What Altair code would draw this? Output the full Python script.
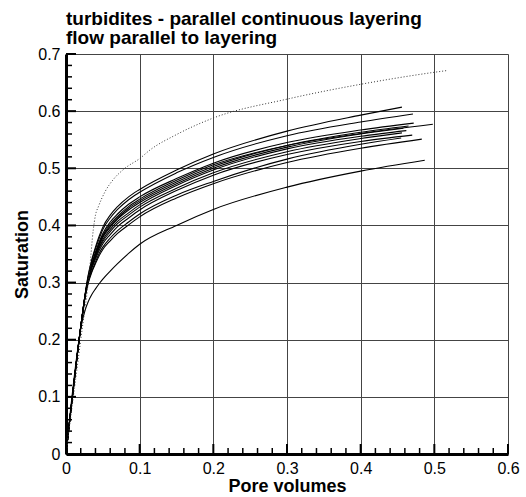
import altair as alt
import pandas as pd

# ---- data -------------------------------------------------------------
common_pv = [0.0, 0.022, 0.026, 0.03, 0.035, 0.04, 0.045, 0.05, 0.06, 0.07, 0.085,
             0.1, 0.15, 0.2, 0.3, 0.4]

sat_c1 = [0.0, 0.242, 0.280, 0.312, 0.340, 0.362, 0.381, 0.397, 0.418, 0.433, 0.450,
          0.463, 0.497, 0.525, 0.565, 0.593]
sat_c2 = [0.0, 0.242, 0.279, 0.310, 0.338, 0.359, 0.377, 0.393, 0.413, 0.428, 0.445,
          0.458, 0.492, 0.519, 0.557, 0.581]
sat_c3 = [0.0, 0.241, 0.277, 0.306, 0.332, 0.353, 0.371, 0.386, 0.406, 0.420, 0.437,
          0.450, 0.482, 0.509, 0.545, 0.567]
sat_c4 = [0.0, 0.241, 0.277, 0.305, 0.331, 0.351, 0.368, 0.383, 0.402, 0.416, 0.433,
          0.446, 0.479, 0.506, 0.540, 0.561]
sat_c5 = [0.0, 0.241, 0.277, 0.306, 0.330, 0.350, 0.367, 0.381, 0.399, 0.413, 0.430,
          0.443, 0.476, 0.503, 0.540, 0.563]
sat_c6 = [0.0, 0.242, 0.278, 0.306, 0.330, 0.349, 0.365, 0.379, 0.397, 0.411, 0.427,
          0.440, 0.473, 0.500, 0.537, 0.560]
sat_c7 = [0.0, 0.242, 0.278, 0.305, 0.329, 0.346, 0.362, 0.375, 0.393, 0.407, 0.422,
          0.436, 0.470, 0.497, 0.534, 0.556]
sat_c8 = [0.0, 0.242, 0.278, 0.305, 0.327, 0.344, 0.360, 0.372, 0.389, 0.403, 0.418,
          0.432, 0.465, 0.492, 0.529, 0.552]
sat_c9 = [0.0, 0.242, 0.277, 0.303, 0.325, 0.341, 0.356, 0.368, 0.384, 0.398, 0.413,
          0.427, 0.461, 0.488, 0.524, 0.547]
sat_c10 = [0.0, 0.241, 0.276, 0.300, 0.320, 0.336, 0.351, 0.362, 0.378, 0.391, 0.406,
           0.420, 0.453, 0.477, 0.516, 0.542]
sat_c11 = [0.0, 0.240, 0.275, 0.298, 0.318, 0.333, 0.347, 0.358, 0.373, 0.386, 0.401,
           0.415, 0.448, 0.473, 0.510, 0.535]
sat_c12 = [0.0, 0.232, 0.252, 0.266, 0.279, 0.289, 0.298, 0.306, 0.320, 0.333, 0.351,
           0.367, 0.400, 0.428, 0.467, 0.495]

end_pv = [0.456, 0.471, 0.472, 0.498, 0.465, 0.458, 0.462, 0.456, 0.470, 0.455, 0.483, 0.487]
end_sat = [0.607, 0.595, 0.579, 0.577, 0.574, 0.570, 0.566, 0.562, 0.558, 0.553, 0.551, 0.514]

dotted_pv = [0.0, 0.01, 0.02, 0.032, 0.037, 0.040, 0.044, 0.053, 0.064, 0.08, 0.1,
             0.114, 0.15, 0.2, 0.3, 0.4, 0.5, 0.517]
dotted_sat = [0.0, 0.10, 0.20, 0.322, 0.392, 0.418, 0.433, 0.459, 0.480, 0.500, 0.517,
              0.532, 0.559, 0.588, 0.621, 0.647, 0.668, 0.671]

x_major = [0.0, 0.1, 0.2, 0.3, 0.4, 0.5, 0.6]
y_major = [0.0, 0.1, 0.2, 0.3, 0.4, 0.5, 0.6, 0.7]
x_minor = [0.02, 0.04, 0.06, 0.08, 0.12, 0.14, 0.16, 0.18, 0.22, 0.24, 0.26, 0.28,
           0.32, 0.34, 0.36, 0.38, 0.42, 0.44, 0.46, 0.48, 0.52, 0.54, 0.56, 0.58]
y_minor = [0.02, 0.04, 0.06, 0.08, 0.12, 0.14, 0.16, 0.18, 0.22, 0.24, 0.26, 0.28,
           0.32, 0.34, 0.36, 0.38, 0.42, 0.44, 0.46, 0.48, 0.52, 0.54, 0.56, 0.58,
           0.62, 0.64, 0.66, 0.68]

# ---- build tables ------------------------------------------------------
solid = [sat_c1, sat_c2, sat_c3, sat_c4, sat_c5, sat_c6, sat_c7, sat_c8,
         sat_c9, sat_c10, sat_c11, sat_c12]
rows = []
for k, ys in enumerate(solid):
    xs = common_pv + [end_pv[k]]
    ys2 = ys + [end_sat[k]]
    for i, (a, b) in enumerate(zip(xs, ys2)):
        rows.append({"x": a, "y": b, "curve": f"c{k+1}", "i": i})
df_solid = pd.DataFrame(rows)
df_dot = pd.DataFrame({"x": dotted_pv, "y": dotted_sat, "i": list(range(len(dotted_pv)))})

FONT = "Liberation Sans"
W, H = 442, 400

xscale = alt.Scale(domain=[0, 0.6], nice=False, zero=False)
yscale = alt.Scale(domain=[0, 0.7], nice=False, zero=False)

xaxis = alt.Axis(values=x_major, format="~g", grid=True, gridColor="#444444", gridWidth=1,
                 ticks=False, domainColor="black", domainWidth=3,
                 labelFont=FONT, labelFontSize=16, labelColor="black", labelPadding=6,
                 labelFlush=False,
                 title="Pore volumes", titleFont=FONT, titleFontSize=18,
                 titleFontWeight="bold", titleColor="black", titlePadding=1)
yaxis = alt.Axis(values=y_major, format="~g", grid=True, gridColor="#444444", gridWidth=1,
                 ticks=False, domainColor="black", domainWidth=3,
                 labelFont=FONT, labelFontSize=16, labelColor="black", labelPadding=6,
                 labelFlush=False,
                 title="Saturation", titleFont=FONT, titleFontSize=18,
                 titleFontWeight="bold", titleColor="black", titlePadding=6)

lines = alt.Chart(df_solid).mark_line(color="black", strokeWidth=1.1,
                                       interpolate="monotone").encode(
    x=alt.X("x:Q", scale=xscale, axis=xaxis),
    y=alt.Y("y:Q", scale=yscale, axis=yaxis),
    detail="curve:N",
    order="i:Q",
)

dots = alt.Chart(df_dot).mark_line(color="#333333", strokeWidth=1, strokeDash=[1, 2],
                                   interpolate="monotone").encode(
    x="x:Q", y="y:Q", order="i:Q")

xt_major = alt.Chart(pd.DataFrame({"x": x_major})).mark_rule(color="black", strokeWidth=2).encode(
    x="x:Q", y=alt.value(H), y2=alt.value(H - 10))
xt_minor = alt.Chart(pd.DataFrame({"x": x_minor})).mark_rule(color="black", strokeWidth=1.5).encode(
    x="x:Q", y=alt.value(H), y2=alt.value(H - 6))
yt_major = alt.Chart(pd.DataFrame({"y": y_major})).mark_rule(color="black", strokeWidth=2).encode(
    y="y:Q", x=alt.value(0), x2=alt.value(10))
yt_minor = alt.Chart(pd.DataFrame({"y": y_minor})).mark_rule(color="black", strokeWidth=1.5).encode(
    y="y:Q", x=alt.value(0), x2=alt.value(6))

chart = alt.layer(lines, dots, xt_major, xt_minor, yt_major, yt_minor).properties(
    width=W, height=H,
    title=alt.Title(["turbidites - parallel continuous layering", "flow parallel to layering"],
                    anchor="start", frame="group", font=FONT, fontSize=19, fontWeight="bold",
                    color="black", offset=-2, lineHeight=19),
    autosize=alt.AutoSizeParams(type="none"),
    padding={"left": 66, "top": 54, "right": 18, "bottom": 43},
).configure_view(stroke="black", strokeWidth=1).configure(background="white")

chart.save("out.html", embed_options={"renderer": "svg", "actions": False})
